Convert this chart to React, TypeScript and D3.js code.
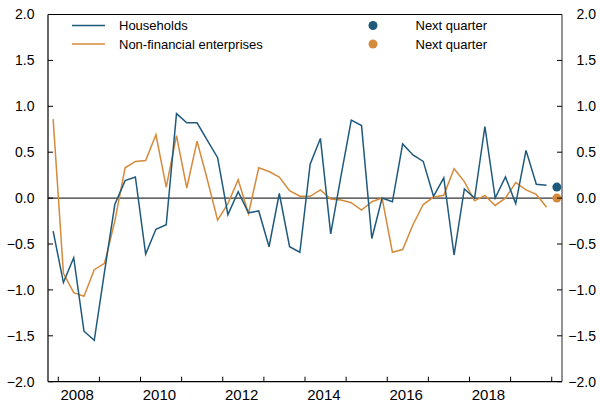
import React from "react";
import * as d3 from "d3";

const startYear = 2007;
const startQuarter = 4;
const households = [
  -0.36, -0.92, -0.65, -1.45, -1.55, -0.8, -0.07, 0.19, 0.23, -0.61, -0.34, -0.29,
  0.92, 0.82, 0.82, 0.63, 0.44, -0.18, 0.07, -0.16, -0.14, -0.53, 0.05, -0.53,
  -0.59, 0.37, 0.65, -0.39, 0.24, 0.85, 0.79, -0.44, 0.0, -0.04, 0.59, 0.47,
  0.4, 0.02, 0.22, -0.62, 0.1, 0.0, 0.78, 0.0, 0.23, -0.06, 0.52, 0.15, 0.14,
];
const enterprises = [
  0.86, -0.82, -1.03, -1.07, -0.78, -0.71, -0.25, 0.33, 0.4, 0.41, 0.69, 0.12,
  0.68, 0.11, 0.62, 0.2, -0.24, -0.06, 0.2, -0.17, 0.33, 0.29, 0.23, 0.08,
  0.02, 0.02, 0.09, -0.01, -0.02, -0.05, -0.13, -0.04, 0.0, -0.59, -0.56, -0.29,
  -0.07, 0.01, 0.03, 0.32, 0.18, -0.03, 0.03, -0.08, 0.0, 0.17, 0.09, 0.04, -0.1,
];
const nextHouseholds = 0.12;
const nextEnterprises = 0.0;
const yTicks = [-2, -1.5, -1, -0.5, 0, 0.5, 1, 1.5, 2];
const yearTicks = [2008, 2009, 2010, 2011, 2012, 2013, 2014, 2015, 2016, 2017, 2018, 2019, 2020];
const yearLabels = [2008, 2010, 2012, 2014, 2016, 2018];
const seriesNames = ["Households", "Non-financial enterprises"];
const dotName = "Next quarter";

const BLUE = "#1f5a7d";
const ORANGE = "#d68a3c";
const FONT = "'Liberation Sans', Arial, Helvetica, sans-serif";

export default function App() {
  const W = 600, H = 403;
  const L = 48, R = 562, T = 14.5, B = 381.7;
  const x = d3.scaleLinear().domain([2007.75, 2020.25]).range([L, R]);
  const y = d3.scaleLinear().domain([-2, 2]).range([B, T]);
  const tOf = (i: number) => startYear + (startQuarter - 1 + i + 0.5) / 4;
  const line = d3
    .line<number>()
    .x((_, i) => x(tOf(i)))
    .y((d) => y(d));
  const nextT = tOf(households.length);
  const tickLen = 5;

  return (
    <svg
      width={W}
      height={H}
      style={{ position: "absolute", left: 0, top: 0, display: "block", background: "#fff" }}
      fontFamily={FONT}
    >
      {/* zero line */}
      <line x1={L} x2={R} y1={y(0)} y2={y(0)} stroke="#000" strokeWidth={1} />
      {/* series */}
      <path d={line(enterprises) || ""} fill="none" stroke={ORANGE} strokeWidth={1.5} strokeLinejoin="miter" />
      <path d={line(households) || ""} fill="none" stroke={BLUE} strokeWidth={1.5} strokeLinejoin="miter" />
      <circle cx={x(nextT)} cy={y(nextEnterprises)} r={4.5} fill={ORANGE} />
      <circle cx={x(nextT)} cy={y(nextHouseholds)} r={4.5} fill={BLUE} />

      {/* frame */}
      <line x1={L} x2={R} y1={T} y2={T} stroke="#000" strokeWidth={1} />
      <line x1={L} x2={L} y1={T} y2={B} stroke="#000" strokeWidth={1.2} />
      <line x1={L} x2={R} y1={B} y2={B} stroke="#000" strokeWidth={1.2} />
      <line x1={R} x2={R} y1={T} y2={B} stroke="#6e6e6e" strokeWidth={1.5} />

      {/* y ticks */}
      {yTicks.map((v) => (
        <g key={v}>
          <line x1={L} x2={L + tickLen} y1={y(v)} y2={y(v)} stroke="#000" />
          <line x1={R - tickLen} x2={R} y1={y(v)} y2={y(v)} stroke="#000" />
          <text x={34.5} y={y(v)} dy="0.35em" textAnchor="end" fontSize={14} fill="#000">
            {d3.format(".1f")(v)}
          </text>
          <text x={596} y={y(v)} dy="0.35em" textAnchor="end" fontSize={14} fill="#000">
            {d3.format(".1f")(v)}
          </text>
        </g>
      ))}

      {/* x ticks */}
      {yearTicks.map((yr) => (
        <line key={yr} x1={x(yr)} x2={x(yr)} y1={B} y2={B - tickLen} stroke="#000" />
      ))}
      {yearLabels.map((yr) => (
        <text key={yr} x={x(yr + 0.46)} y={400} textAnchor="middle" fontSize={15} fill="#000">
          {yr}
        </text>
      ))}

      {/* legend */}
      <line x1={72} x2={105} y1={25.5} y2={25.5} stroke={BLUE} strokeWidth={1.5} />
      <text x={119} y={25.5} dy="0.35em" fontSize={13} fill="#000">{seriesNames[0]}</text>
      <line x1={72} x2={105} y1={44} y2={44} stroke={ORANGE} strokeWidth={1.5} />
      <text x={119} y={44} dy="0.35em" fontSize={13} fill="#000">{seriesNames[1]}</text>

      <circle cx={373} cy={25.5} r={4.5} fill={BLUE} />
      <text x={415.5} y={25.5} dy="0.35em" fontSize={13} fill="#000">{dotName}</text>
      <circle cx={373} cy={44} r={4.5} fill={ORANGE} />
      <text x={415.5} y={44} dy="0.35em" fontSize={13} fill="#000">{dotName}</text>
    </svg>
  );
}
